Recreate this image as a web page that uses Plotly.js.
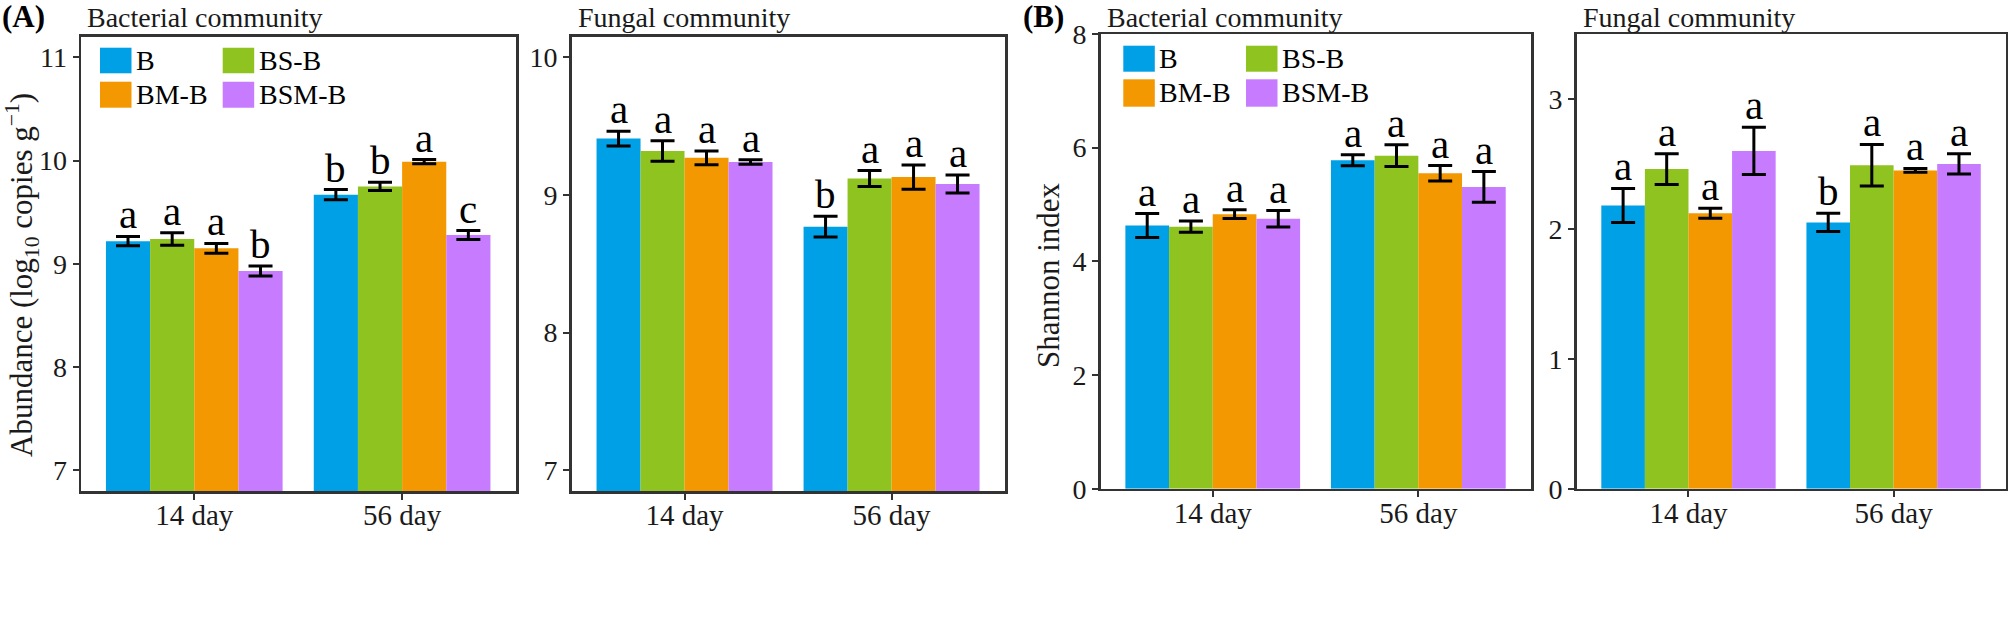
<!DOCTYPE html>
<html><head><meta charset="utf-8">
<script src="https://cdn.plot.ly/plotly-3.0.1.min.js"></script>
<style>html,body{margin:0;padding:0;background:#fff}</style>
</head><body><div id="chart" style="width:2008px;height:618px"></div>
<script>
// ---------- data ----------
const days = ['14 day', '56 day'];
const treatments = ['B', 'BS-B', 'BM-B', 'BSM-B'];

// (A) Bacterial community abundance, log10 copies g-1  (rows: B, BS-B, BM-B, BSM-B)
const bacAbundMean = [[9.22, 9.67], [9.24, 9.75], [9.15, 9.99], [8.93, 9.28]];
const bacAbundSE   = [[0.045, 0.05], [0.06, 0.04], [0.048, 0.02], [0.048, 0.043]];
const bacAbundSig  = [['a', 'b'], ['a', 'b'], ['a', 'a'], ['b', 'c']];

// (A) Fungal community abundance
const fungAbundMean = [[9.41, 8.77], [9.32, 9.12], [9.27, 9.13], [9.24, 9.08]];
const fungAbundSE   = [[0.054, 0.075], [0.075, 0.058], [0.05, 0.088], [0.016, 0.065]];
const fungAbundSig  = [['a', 'b'], ['a', 'a'], ['a', 'a'], ['a', 'a']];

// (B) Bacterial Shannon index
const bacShanMean = [[4.63, 5.78], [4.61, 5.86], [4.83, 5.55], [4.75, 5.31]];
const bacShanSE   = [[0.21, 0.097], [0.10, 0.19], [0.076, 0.135], [0.144, 0.27]];
const bacShanSig  = [['a', 'a'], ['a', 'a'], ['a', 'a'], ['a', 'a']];

// (B) Fungal Shannon index
const fungShanMean = [[2.18, 2.05], [2.46, 2.49], [2.12, 2.45], [2.60, 2.50]];
const fungShanSE   = [[0.131, 0.071], [0.119, 0.16], [0.038, 0.015], [0.182, 0.078]];
const fungShanSig  = [['a', 'b'], ['a', 'a'], ['a', 'a'], ['a', 'a']];

const panelTitles = ['Bacterial community', 'Fungal community', 'Bacterial community', 'Fungal community'];

// ---------- style / layout ----------
const colors = ['#00A0E6', '#8FC31F', '#F39800', '#C77CFF'];
const W = 2008, H = 618;
const px = v => v / W;
const py = v => 1 - v / H;
const FONT = 'Liberation Serif, Times New Roman, serif';
const BARGAP = 0.15;

const panels = [
  {mean: bacAbundMean, se: bacAbundSE, sig: bacAbundSig, x0: 81, x1: 516, y0: 36.7, y1: 491, range: [6.8, 11.2], dtick: 1},
  {mean: fungAbundMean, se: fungAbundSE, sig: fungAbundSig, x0: 571.7, x1: 1005, y0: 36.7, y1: 491, range: [6.85, 10.15], dtick: 1},
  {mean: bacShanMean, se: bacShanSE, sig: bacShanSig, x0: 1100.7, x1: 1531, y0: 34, y1: 488.7, range: [0, 8], dtick: 2},
  {mean: fungShanMean, se: fungShanSE, sig: fungShanSig, x0: 1576.7, x1: 2006, y0: 34, y1: 488.7, range: [0, 3.5], dtick: 1}
];

const traces = [];
const annotations = [];
const shapes = [];
const layout = {
  width: W, height: H,
  margin: {l: 0, r: 0, t: 0, b: 0},
  paper_bgcolor: '#fff', plot_bgcolor: '#fff',
  barmode: 'group', bargap: BARGAP, bargroupgap: 0,
  showlegend: false,
  font: {family: FONT, color: '#1a1a1a'}
};

panels.forEach((p, k) => {
  const n = k === 0 ? '' : String(k + 1);
  const xa = 'x' + n, ya = 'y' + n;
  layout['xaxis' + n] = {
    domain: [px(p.x0), px(p.x1)], anchor: ya,
    type: 'category', range: [-0.545, 1.548], fixedrange: true,
    showline: true, mirror: true, linecolor: '#333', linewidth: 2.5,
    ticks: 'outside', ticklen: 6, tickwidth: 2, tickcolor: '#333',
    ticklabelstandoff: -9,
    tickfont: {family: FONT, size: 29, color: '#1a1a1a'},
    showgrid: false, zeroline: false
  };
  layout['yaxis' + n] = {
    domain: [py(p.y1), py(p.y0)], anchor: xa,
    range: p.range, dtick: p.dtick, tick0: 0, fixedrange: true,
    showline: true, mirror: true, linecolor: '#333', linewidth: 2.5,
    ticks: 'outside', ticklen: 6, tickwidth: 2, tickcolor: '#333',
    tickfont: {family: FONT, size: 28, color: '#1a1a1a'},
    showgrid: false, zeroline: false
  };
  treatments.forEach((t, i) => {
    traces.push({
      type: 'bar', name: t, x: days, y: p.mean[i],
      xaxis: xa, yaxis: ya,
      marker: {color: colors[i], line: {width: 0}},
      error_y: {type: 'data', array: p.se[i], visible: true, color: '#000', thickness: 3, width: 12},
      hoverinfo: 'skip'
    });
    const bw = (1 - BARGAP) / treatments.length;
    days.forEach((d, j) => {
      annotations.push({
        xref: xa, yref: ya, x: j + (i - (treatments.length - 1) / 2) * bw,
        y: p.mean[i][j] + p.se[i][j],
        text: p.sig[i][j], showarrow: false, yanchor: 'bottom', xanchor: 'center',
        yshift: -3,
        font: {family: FONT, size: 41, color: '#000'}
      });
    });
  });
  // panel title
  annotations.push({
    xref: 'paper', yref: 'paper', x: px(p.x0 + 4), y: py(18), xanchor: 'left', yanchor: 'middle',
    text: panelTitles[k], showarrow: false, font: {family: FONT, size: 28, color: '#1a1a1a'}
  });
});

// panel labels
annotations.push({xref: 'paper', yref: 'paper', x: px(0), y: py(17), xanchor: 'left', yanchor: 'middle',
  text: '<b>(A)</b>', showarrow: false, font: {family: FONT, size: 31, color: '#000'}});
annotations.push({xref: 'paper', yref: 'paper', x: px(1021), y: py(17), xanchor: 'left', yanchor: 'middle',
  text: '<b>(B)</b>', showarrow: false, font: {family: FONT, size: 31, color: '#000'}});

// y-axis titles
annotations.push({xref: 'paper', yref: 'paper', x: px(22), y: py(275), xanchor: 'center', yanchor: 'middle',
  textangle: -90, text: 'Abundance (log<sub>10</sub> copies g<sup>\u22121</sup>)', showarrow: false,
  font: {family: FONT, size: 31, color: '#1a1a1a'}});
annotations.push({xref: 'paper', yref: 'paper', x: px(1048), y: py(275), xanchor: 'center', yanchor: 'middle',
  textangle: -90, text: 'Shannon index', showarrow: false,
  font: {family: FONT, size: 31, color: '#1a1a1a'}});

// manual legends (panel 1 and panel 3)
const legendSpecs = [
  {cols: [100, 222.7], rows: [[47.7, 73.3], [81.7, 107.7]]},
  {cols: [1123.3, 1246], rows: [[45.7, 71.7], [79.3, 106.7]]}
];
legendSpecs.forEach(L => {
  treatments.forEach((t, i) => {
    const c = L.cols[i % 2], r = L.rows[Math.floor(i / 2)];
    shapes.push({type: 'rect', xref: 'paper', yref: 'paper',
      x0: px(c), x1: px(c + 31.5), y0: py(r[1]), y1: py(r[0]),
      fillcolor: colors[i], line: {width: 0}});
    annotations.push({xref: 'paper', yref: 'paper', x: px(c + 34), y: py((r[0] + r[1]) / 2),
      xanchor: 'left', yanchor: 'middle', text: t, showarrow: false,
      font: {family: FONT, size: 28, color: '#000'}});
  });
});

layout.annotations = annotations;
layout.shapes = shapes;

Plotly.newPlot('chart', traces, layout, {staticPlot: true, displayModeBar: false});
</script>
</body></html>
